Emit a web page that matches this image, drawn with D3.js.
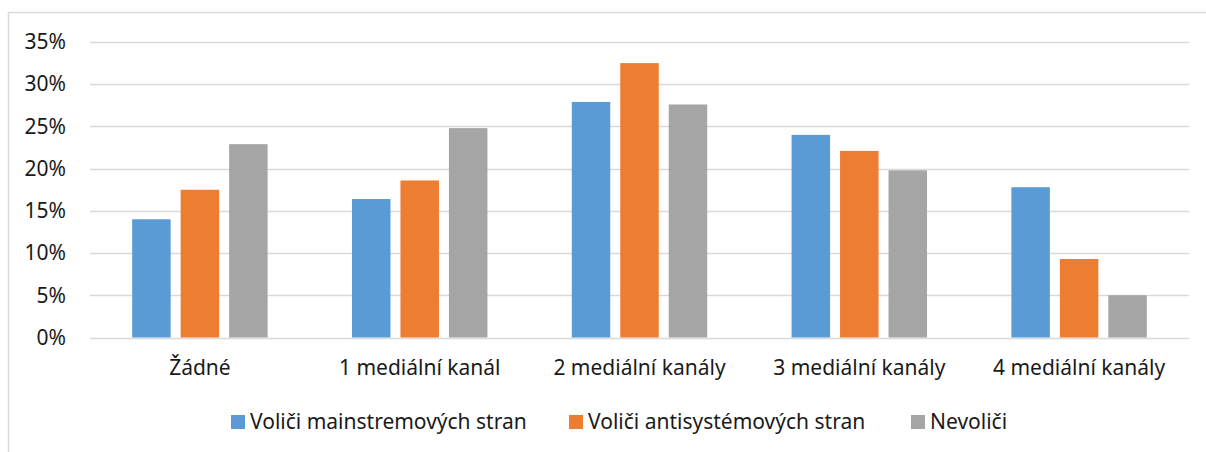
<!DOCTYPE html>
<html>
<head>
<meta charset="utf-8">
<script src="https://cdn.jsdelivr.net/npm/d3@7"></script>
<style>
  body { margin: 0; background: #fff; }
  svg { display: block; font-family: "Noto Sans", "Open Sans", sans-serif; }
</style>
</head>
<body>
<svg width="1206" height="452"></svg>
<script>
var categories = ["Žádné", "1 mediální kanál", "2 mediální kanály", "3 mediální kanály", "4 mediální kanály"];
var seriesNames = ["Voliči mainstremových stran", "Voliči antisystémových stran", "Nevoliči"];
var mainstream = [14.0, 16.4, 27.9, 24.0, 17.8];
var antisystem = [17.5, 18.6, 32.5, 22.1, 9.3];
var nonvoters = [22.9, 24.8, 27.6, 19.8, 5.0];
var yTicks = [0, 5, 10, 15, 20, 25, 30, 35];
var colors = ["#5B9BD5", "#ED7D31", "#A5A5A5"];

var svg = d3.select("svg"),
	width = +svg.attr("width"),
	height = +svg.attr("height");

var series = [mainstream, antisystem, nonvoters];
var fontSize = 21;

// outer chart frame (only top/left are in view)
svg.append("rect")
	.attr("x", 8.5).attr("y", 12.5)
	.attr("width", 1210).attr("height", 460)
	.attr("fill", "none")
	.attr("stroke", "#D9D9D9")
	.attr("stroke-width", 1.5);

var x0 = d3.scaleBand()
	.domain(categories)
	.range([90, 1189])
	.paddingInner(0)
	.paddingOuter(0);

var x1 = d3.scaleBand()
	.domain(d3.range(series.length))
	.range([0, x0.bandwidth()])
	.paddingInner(0.206)
	.paddingOuter(0.87);

var y = d3.scaleLinear()
	.domain([0, 35])
	.range([337.5, 42]);

// gridlines
var grid = svg.append("g")
	.attr("class", "grid");
grid.selectAll("line")
	.data(yTicks)
	.enter().append("line")
	.attr("x1", 90)
	.attr("x2", 1189)
	.attr("y1", function (d) { return Math.round(y(d)) + 0.5; })
	.attr("y2", function (d) { return Math.round(y(d)) + 0.5; })
	.attr("stroke", "#D9D9D9")
	.attr("stroke-width", 1.5);

// bars
var groups = svg.append("g")
	.selectAll("g")
	.data(categories)
	.enter().append("g")
	.attr("transform", function (d) { return "translate(" + x0(d) + ",0)"; });

groups.selectAll("rect")
	.data(function (d, i) {
		return series.map(function (s, k) { return { k: k, v: s[i] }; });
	})
	.enter().append("rect")
	.attr("x", function (d) { return x1(d.k); })
	.attr("width", x1.bandwidth())
	.attr("y", function (d) { return y(d.v); })
	.attr("height", function (d) { return y(0) - y(d.v); })
	.attr("fill", function (d) { return colors[d.k]; });

// y axis labels
var yAxis = d3.axisLeft(y)
	.tickValues(yTicks)
	.tickFormat(function (d) { return d + "%"; })
	.tickSize(0)
	.tickPadding(24);

svg.append("g")
	.attr("transform", "translate(90,0)")
	.call(yAxis)
	.call(function (g) { g.select(".domain").remove(); })
	.selectAll("text")
	.attr("font-size", fontSize)
	.attr("font-family", "\"Noto Sans\", sans-serif")
	.attr("fill", "#1a1a1a");

// x axis labels
var xAxis = d3.axisBottom(x0)
	.tickSize(0)
	.tickPadding(23);

svg.append("g")
	.attr("transform", "translate(0," + y(0) + ")")
	.call(xAxis)
	.call(function (g) { g.select(".domain").remove(); })
	.selectAll("text")
	.attr("font-size", fontSize)
	.attr("font-family", "\"Noto Sans\", sans-serif")
	.attr("fill", "#1a1a1a");

// legend
var legendX = [231, 569, 911];
var legend = svg.append("g")
	.selectAll("g")
	.data(seriesNames)
	.enter().append("g")
	.attr("transform", function (d, i) { return "translate(" + legendX[i] + ",415)"; });

legend.append("rect")
	.attr("width", 14)
	.attr("height", 14)
	.attr("fill", function (d, i) { return colors[i]; });

legend.append("text")
	.attr("x", 19)
	.attr("y", 7)
	.attr("dy", "0.35em")
	.attr("font-size", fontSize)
	.attr("fill", "#1a1a1a")
	.text(function (d) { return d; });
</script>
</body>
</html>
